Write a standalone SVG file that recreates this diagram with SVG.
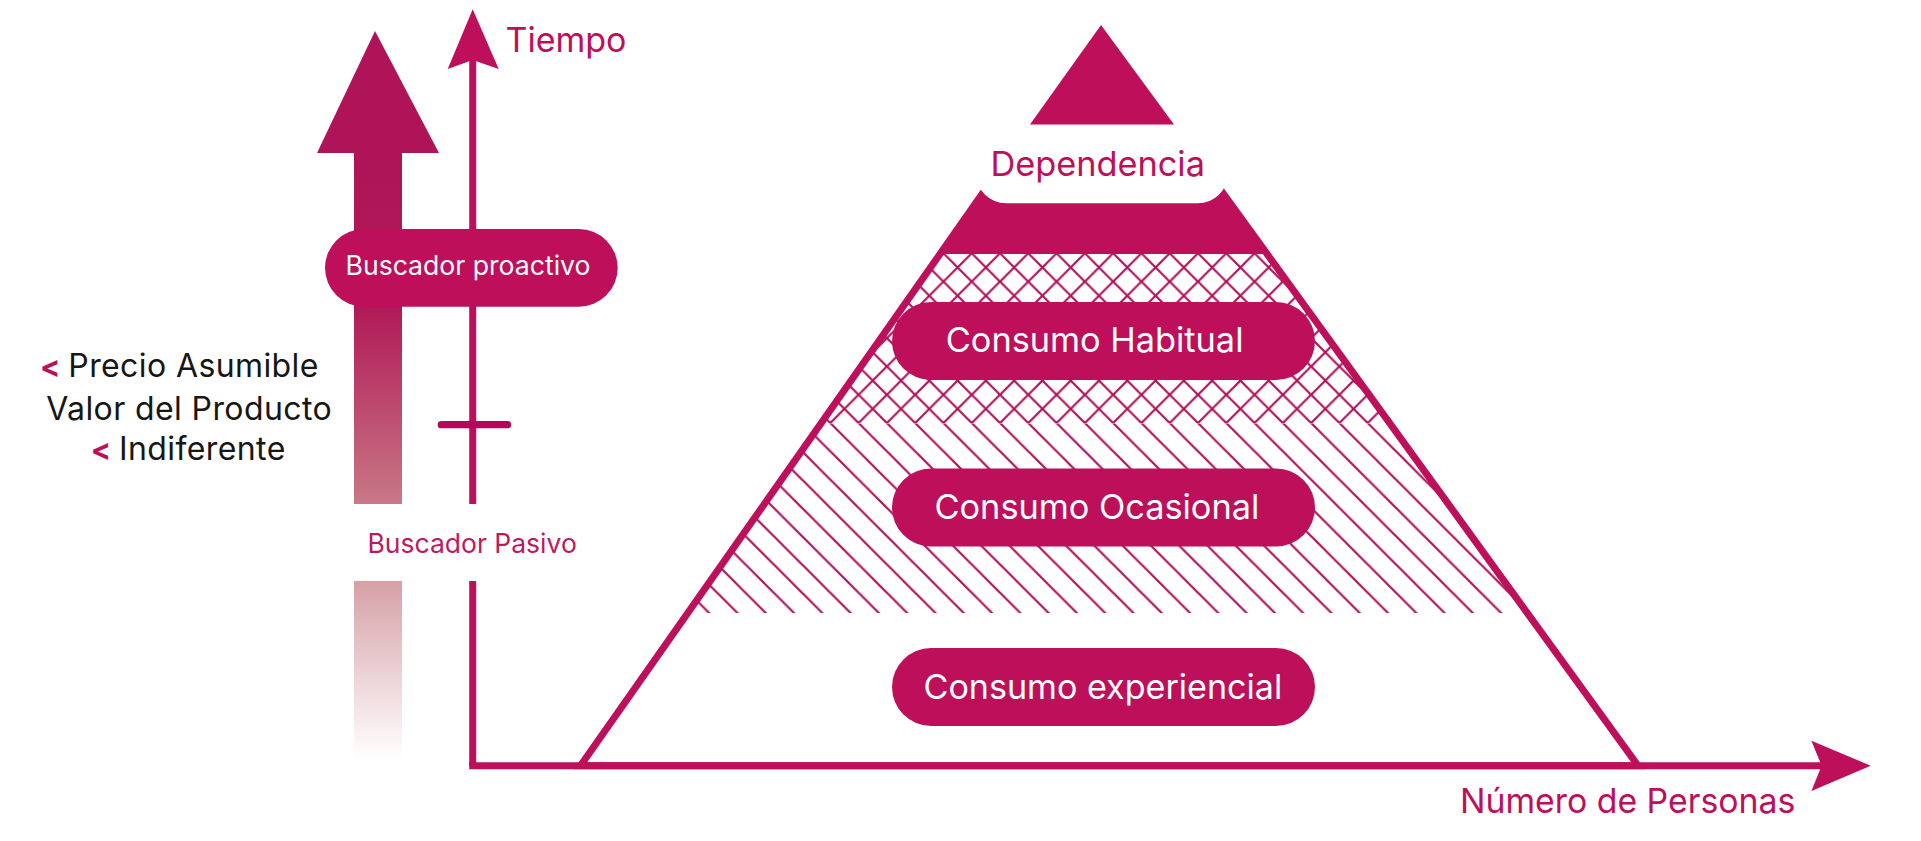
<svg xmlns="http://www.w3.org/2000/svg" width="1921" height="841" viewBox="0 0 1921 841">
  <style>
    .lbl { font-family: Inter, "Noto Sans", "Liberation Sans", sans-serif; }
    .pink { fill: #BD0F5A; }
    .white { fill: #FFFFFF; }
    .dark { fill: #161616; }
    .lt { fill: #BD0F5A; font-weight: 700; }
    .axis { stroke: #BD0F5A; stroke-width: 7; fill: none; }
    .pill { fill: #BD0F5A; }
  </style>
  <defs>
    <linearGradient id="shaftGrad" gradientUnits="userSpaceOnUse" x1="0" y1="153" x2="0" y2="760">
      <stop offset="0" stop-color="#AE1457"/>
      <stop offset="0.254" stop-color="#B01A57"/>
      <stop offset="0.578" stop-color="#C87886"/>
      <stop offset="0.705" stop-color="#D6A0A7"/>
      <stop offset="0.868" stop-color="#EDD5D8"/>
      <stop offset="1" stop-color="#FFFFFF"/>
    </linearGradient>
    <pattern id="crossHatch" patternUnits="userSpaceOnUse" x="1000" y="253.3" width="28.284" height="28.284">
      <path d="M-2,-2 L30.284,30.284 M26.284,-2 L30.284,2 M-2,26.284 L2,30.284 M30.284,-2 L-2,30.284 M-2,2 L2,-2 M26.284,30.284 L30.284,26.284" stroke="#B01259" stroke-width="2.2" fill="none"/>
    </pattern>
    <pattern id="singleHatch" patternUnits="userSpaceOnUse" x="1000" y="253.3" width="28.284" height="28.284">
      <path d="M-2,-2 L30.284,30.284 M26.284,-2 L30.284,2 M-2,26.284 L2,30.284" stroke="#B01259" stroke-width="2.2" fill="none"/>
    </pattern>
  </defs>

  <!-- Big gradient arrow (proactive to passive) -->
  <g id="trend-arrow">
    <polygon points="375,31 317,153 439,153" fill="#AE1457"/>
    <rect x="354" y="150" width="48" height="354" fill="url(#shaftGrad)"/>
    <rect x="354" y="581" width="48" height="180" fill="url(#shaftGrad)"/>
  </g>

  <!-- Connectors: axes -->
  <g id="connectors">
    <line class="axis" x1="472.7" y1="58" x2="472.7" y2="504"/>
    <line class="axis" x1="472.7" y1="581" x2="472.7" y2="765.7"/>
    <polygon class="pink" points="472.7,9.3 447.7,69 472.7,60 498.7,69"/>
    <line class="axis" x1="469.2" y1="765.7" x2="1823" y2="765.7"/>
    <polygon class="pink" points="1870.7,765.7 1811.4,740.7 1821.6,765.7 1811.4,791"/>
    <line x1="441.3" y1="424.7" x2="507.5" y2="424.7" stroke="#B5085A" stroke-width="7.3" stroke-linecap="round"/>
  </g>

  <g id="label-tiempo">
    <text class="lbl pink" x="505.5" y="51.7" font-size="34">Tiempo</text>
  </g>

  <g id="node-buscador-proactivo">
    <rect class="pill" x="325" y="229" width="292.7" height="77.7" rx="38.85"/>
    <text class="lbl white" x="345.5" y="275" font-size="26.6">Buscador proactivo</text>
  </g>

  <g id="node-buscador-pasivo">
    <text class="lbl" fill="#C0185F" x="367.5" y="553.3" font-size="26.5">Buscador Pasivo</text>
  </g>

  <g id="label-precio">
    <text class="lbl lt" x="40" y="377.3" font-size="30">&lt;</text>
    <text class="lbl dark" x="68.3" y="377.3" font-size="32" letter-spacing="0.4">Precio Asumible</text>
    <text class="lbl dark" x="46.2" y="420" font-size="32" letter-spacing="0.4">Valor del Producto</text>
    <text class="lbl lt" x="90.7" y="460" font-size="30">&lt;</text>
    <text class="lbl dark" x="119" y="460" font-size="32" letter-spacing="0.4">Indiferente</text>
  </g>

  <!-- Pyramid -->
  <g id="pyramid">
    <clipPath id="crossClip">
      <polygon points="939.9,254 1263,254 1387,423.3 820.8,423.3"/>
    </clipPath>
    <clipPath id="singleClip">
      <polygon points="820.8,423.3 1387,423.3 1527,613.3 687.2,613.3"/>
    </clipPath>
    <rect x="680" y="254" width="860" height="169.3" fill="url(#crossHatch)" clip-path="url(#crossClip)"/>
    <rect x="680" y="423.3" width="860" height="190" fill="url(#singleHatch)" clip-path="url(#singleClip)"/>
    <polygon class="pink" points="988.5,185 1217.1,185 1267.2,254 939.9,254"/>
    <path class="axis" d="M1027.1,130 L580.5,765.7 L1638,765.7 L1177.2,130"/>
    <rect x="976" y="125" width="252" height="78.3" rx="30" fill="#FFFFFF"/>
    <polygon class="pink" points="1101,25 1030,124.5 1174,124.5"/>
  </g>

  <g id="label-dependencia">
    <text class="lbl pink" x="990.5" y="175.7" font-size="34.3">Dependencia</text>
  </g>

  <g id="node-consumo-habitual">
    <rect class="pill" x="892" y="302" width="423" height="78" rx="39"/>
    <text class="lbl white" x="945.8" y="351.5" font-size="34.3">Consumo Habitual</text>
  </g>

  <g id="node-consumo-ocasional">
    <rect class="pill" x="892" y="468.5" width="423" height="78" rx="39"/>
    <text class="lbl white" x="934.5" y="518.5" font-size="34.3">Consumo Ocasional</text>
  </g>

  <g id="node-consumo-experiencial">
    <rect class="pill" x="892" y="648" width="423" height="78" rx="39"/>
    <text class="lbl white" x="923.5" y="698.5" font-size="34.1">Consumo experiencial</text>
  </g>

  <g id="label-numero-personas">
    <text class="lbl pink" x="1460" y="813.3" font-size="33.8">Número de Personas</text>
  </g>
</svg>
